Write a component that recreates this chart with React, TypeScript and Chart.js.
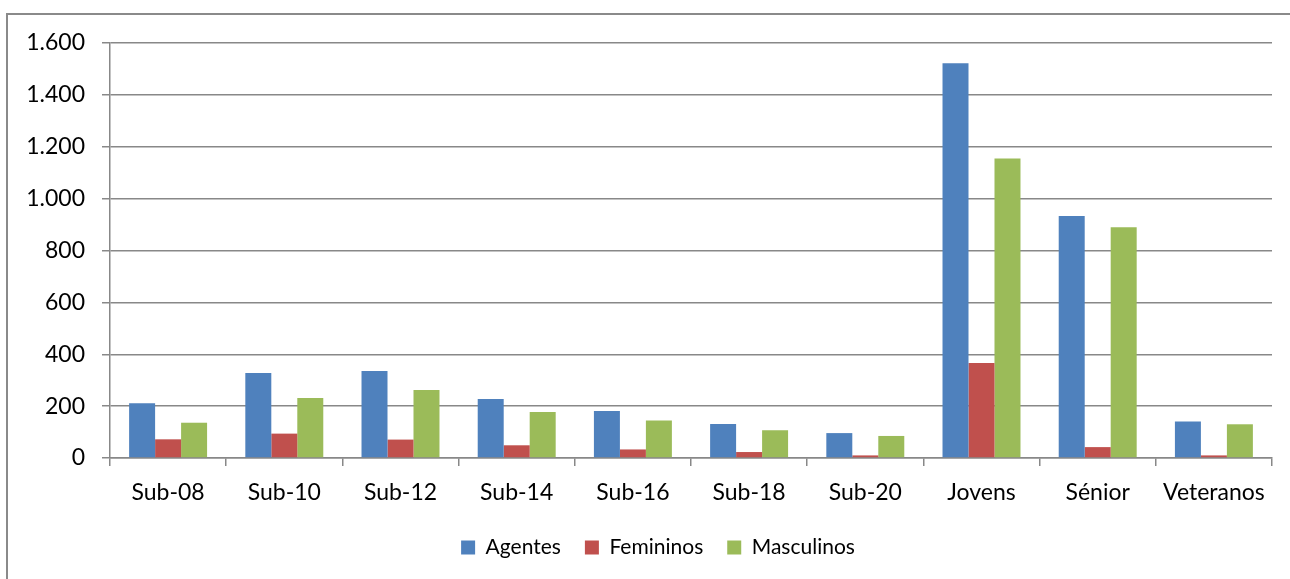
import React, { useEffect, useRef } from "react";
import { Chart, registerables } from "chart.js";

Chart.register(...registerables);

const categories = ["Sub-08", "Sub-10", "Sub-12", "Sub-14", "Sub-16", "Sub-18", "Sub-20", "Jovens", "Sénior", "Veteranos"];
const agentes = [211, 328, 335, 227, 181, 131, 96, 1522, 933, 141];
const femininos = [72, 94, 71, 49, 33, 23, 10, 366, 42, 10];
const masculinos = [136, 231, 262, 177, 145, 107, 85, 1155, 890, 130];
const yTickLabels = ["0", "200", "400", "600", "800", "1.000", "1.200", "1.400", "1.600"];

const FONT = "Lato, 'Open Sans', sans-serif";

const legendShift = {
  id: "legendShift",
  afterLayout(chart: any) {
    if (chart.legend) {
      chart.legend.left += 22;
      chart.legend.right += 22;
    }
  },
};

export default function App() {
  const ref = useRef<HTMLCanvasElement | null>(null);
  useEffect(() => {
    if (!ref.current) return;
    const chart = new Chart(ref.current, {
      type: "bar",
      data: {
        labels: categories,
        datasets: [
          { label: "Agentes", data: agentes, backgroundColor: "#4F81BD" },
          { label: "Femininos", data: femininos, backgroundColor: "#C0504D" },
          { label: "Masculinos", data: masculinos, backgroundColor: "#9BBB59" },
        ],
      },
      plugins: [legendShift],
      options: {
        responsive: false,
        animation: false,
        devicePixelRatio: 1,
        layout: { padding: { top: 43, left: 0, right: 18, bottom: 11 } },
        datasets: { bar: { categoryPercentage: 0.671, barPercentage: 1.0 } },
        plugins: {
          tooltip: { enabled: false },
          legend: {
            position: "bottom",
            labels: {
              boxWidth: 14,
              boxHeight: 14,
              padding: 24,
              color: "#000",
              font: { family: FONT, size: 21 },
            },
          },
        },
        scales: {
          x: {
            grid: { offset: true, drawOnChartArea: false, drawTicks: true, tickLength: 8, color: "#888", lineWidth: 1.5 },
            border: { display: true, color: "#888", width: 1.5 },
            ticks: { color: "#000", font: { family: FONT, size: 23 }, padding: 13, maxRotation: 0 },
            afterFit: (s: any) => { s.height = 55; },
          },
          y: {
            min: 0,
            max: 1600,
            ticks: {
              stepSize: 200,
              color: "#000",
              padding: 17,
              font: { family: FONT, size: 23 },
              callback: (_v: any, i: number) => yTickLabels[i],
            },
            grid: { color: "#888", lineWidth: 1.5, tickLength: 8 },
            border: { display: true, color: "#888", width: 1.5 },
            afterFit: (s: any) => { s.width = 110; },
          },
        },
      },
    });
    return () => chart.destroy();
  }, []);
  return (
    <div style={{ position: "fixed", left: 0, top: 0, width: 1290, height: 579, background: "#fff", overflow: "hidden" }}>
      <div style={{ position: "absolute", left: 6, top: 13, width: 1400, height: 700, border: "2px solid #8a8a8a", boxSizing: "border-box" }} />
      <canvas ref={ref} width={1290} height={579} style={{ position: "absolute", left: 0, top: 0 }} />
    </div>
  );
}
